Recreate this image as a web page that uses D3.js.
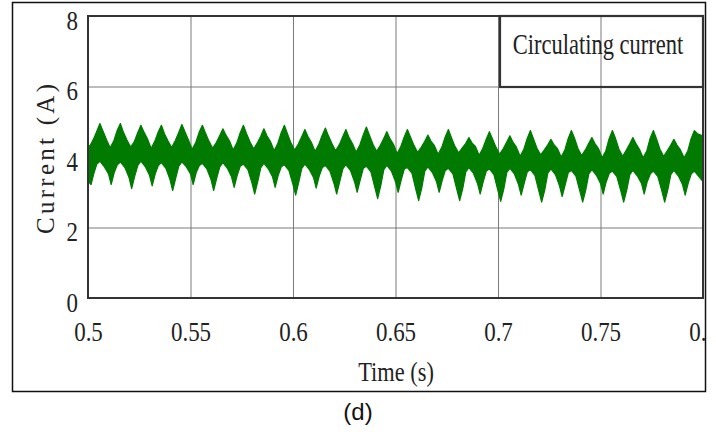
<!DOCTYPE html>
<html>
<head>
<meta charset="utf-8">
<script src="https://cdn.jsdelivr.net/npm/d3@7"></script>
<style>
  body { margin: 0; background: #fff; }
  svg { display: block; }
  .serif { font-family: "Liberation Serif", "Times New Roman", serif; fill: #222; }
</style>
</head>
<body>
<div id="chart"></div>
<script>
// axis ticks
const xTicks = [0.5, 0.55, 0.6, 0.65, 0.7, 0.75, 0.8];
const xTickLabels = ["0.5", "0.55", "0.6", "0.65", "0.7", "0.75", "0.8"];
const yTicks = [0, 2, 4, 6, 8];
const yTickLabels = ["0", "2", "4", "6", "8"];

// upper edge of the circulating current band [time (s), current (A)]
const upperEdge = [
  [0.5000, 4.36],
  [0.5008, 4.30], [0.5026, 4.50], [0.5042, 4.72], [0.5058, 4.95], [0.5073, 4.74], [0.5090, 4.50],
  [0.5108, 4.26], [0.5126, 4.46], [0.5142, 4.75], [0.5158, 4.95], [0.5173, 4.70], [0.5190, 4.48],
  [0.5208, 4.28], [0.5226, 4.44], [0.5242, 4.68], [0.5258, 4.90], [0.5273, 4.71], [0.5290, 4.52],
  [0.5308, 4.24], [0.5326, 4.45], [0.5342, 4.70], [0.5358, 4.90], [0.5373, 4.66], [0.5390, 4.46],
  [0.5408, 4.27], [0.5426, 4.47], [0.5442, 4.69], [0.5458, 4.92], [0.5473, 4.72], [0.5490, 4.48],
  [0.5508, 4.22], [0.5526, 4.42], [0.5542, 4.70], [0.5558, 4.90], [0.5573, 4.68], [0.5590, 4.45],
  [0.5608, 4.25], [0.5626, 4.41], [0.5642, 4.60], [0.5658, 4.80], [0.5673, 4.62], [0.5690, 4.46],
  [0.5708, 4.20], [0.5726, 4.40], [0.5742, 4.68], [0.5758, 4.90], [0.5773, 4.67], [0.5790, 4.43],
  [0.5808, 4.23], [0.5826, 4.40], [0.5842, 4.58], [0.5858, 4.80], [0.5873, 4.60], [0.5890, 4.44],
  [0.5908, 4.18], [0.5926, 4.39], [0.5942, 4.68], [0.5958, 4.90], [0.5973, 4.66], [0.5990, 4.40],
  [0.6008, 4.20], [0.6026, 4.37], [0.6042, 4.57], [0.6058, 4.78], [0.6073, 4.58], [0.6090, 4.41],
  [0.6108, 4.16], [0.6126, 4.36], [0.6142, 4.61], [0.6158, 4.82], [0.6173, 4.60], [0.6190, 4.38],
  [0.6208, 4.18], [0.6226, 4.35], [0.6242, 4.57], [0.6258, 4.78], [0.6273, 4.56], [0.6290, 4.38],
  [0.6308, 4.14], [0.6326, 4.34], [0.6342, 4.62], [0.6358, 4.85], [0.6373, 4.62], [0.6390, 4.36],
  [0.6408, 4.16], [0.6426, 4.33], [0.6442, 4.52], [0.6458, 4.72], [0.6473, 4.52], [0.6490, 4.36],
  [0.6508, 4.10], [0.6526, 4.30], [0.6542, 4.56], [0.6558, 4.78], [0.6573, 4.57], [0.6590, 4.33],
  [0.6608, 4.13], [0.6626, 4.28], [0.6642, 4.44], [0.6658, 4.62], [0.6673, 4.45], [0.6690, 4.32],
  [0.6708, 4.08], [0.6726, 4.28], [0.6742, 4.56], [0.6758, 4.78], [0.6773, 4.55], [0.6790, 4.30],
  [0.6808, 4.12], [0.6826, 4.26], [0.6842, 4.38], [0.6858, 4.55], [0.6873, 4.40], [0.6890, 4.30],
  [0.6908, 4.05], [0.6926, 4.25], [0.6942, 4.50], [0.6958, 4.72], [0.6973, 4.52], [0.6990, 4.28],
  [0.7008, 4.08], [0.7026, 4.24], [0.7042, 4.42], [0.7058, 4.60], [0.7073, 4.42], [0.7090, 4.28],
  [0.7108, 4.02], [0.7126, 4.22], [0.7142, 4.52], [0.7158, 4.75], [0.7173, 4.52], [0.7190, 4.25],
  [0.7208, 4.06], [0.7226, 4.20], [0.7242, 4.34], [0.7258, 4.50], [0.7273, 4.35], [0.7290, 4.24],
  [0.7308, 4.00], [0.7326, 4.20], [0.7342, 4.52], [0.7358, 4.75], [0.7373, 4.54], [0.7390, 4.24],
  [0.7408, 4.04], [0.7426, 4.20], [0.7442, 4.38], [0.7458, 4.55], [0.7473, 4.38], [0.7490, 4.24],
  [0.7508, 3.98], [0.7526, 4.18], [0.7542, 4.52], [0.7558, 4.75], [0.7573, 4.53], [0.7590, 4.22],
  [0.7608, 4.02], [0.7626, 4.20], [0.7642, 4.37], [0.7658, 4.55], [0.7673, 4.38], [0.7690, 4.22],
  [0.7708, 3.98], [0.7726, 4.18], [0.7742, 4.53], [0.7758, 4.75], [0.7773, 4.52], [0.7790, 4.22],
  [0.7808, 4.02], [0.7826, 4.18], [0.7842, 4.33], [0.7858, 4.50], [0.7873, 4.34], [0.7890, 4.20],
  [0.7908, 3.98], [0.7926, 4.18], [0.7942, 4.52], [0.7958, 4.75], [0.7973, 4.66], [0.8000, 4.60]
];

// lower edge of the band [time (s), current (A)]
const lowerEdge = [
  [0.5000, 3.32], [0.5015, 3.22], [0.5028, 3.52], [0.5043, 3.80],
  [0.5058, 3.88], [0.5080, 3.72], [0.5100, 3.52], [0.5113, 3.22], [0.5128, 3.56], [0.5143, 3.78],
  [0.5158, 3.86], [0.5180, 3.70], [0.5200, 3.42], [0.5213, 3.10], [0.5228, 3.46], [0.5243, 3.76],
  [0.5258, 3.88], [0.5280, 3.72], [0.5300, 3.48], [0.5313, 3.18], [0.5328, 3.52], [0.5343, 3.76],
  [0.5358, 3.84], [0.5380, 3.68], [0.5400, 3.36], [0.5413, 3.05], [0.5428, 3.40], [0.5443, 3.74],
  [0.5458, 3.86], [0.5480, 3.72], [0.5500, 3.52], [0.5513, 3.22], [0.5528, 3.56], [0.5543, 3.76],
  [0.5558, 3.82], [0.5580, 3.66], [0.5600, 3.36], [0.5613, 3.05], [0.5628, 3.40], [0.5643, 3.72],
  [0.5658, 3.84], [0.5680, 3.68], [0.5700, 3.44], [0.5713, 3.14], [0.5728, 3.48], [0.5743, 3.74],
  [0.5758, 3.80], [0.5780, 3.64], [0.5800, 3.26], [0.5813, 2.95], [0.5828, 3.30], [0.5843, 3.70],
  [0.5858, 3.82], [0.5880, 3.66], [0.5900, 3.44], [0.5913, 3.14], [0.5928, 3.48], [0.5943, 3.72],
  [0.5958, 3.78], [0.5980, 3.62], [0.6000, 3.22], [0.6013, 2.92], [0.6028, 3.28], [0.6043, 3.68],
  [0.6058, 3.80], [0.6080, 3.64], [0.6100, 3.42], [0.6113, 3.12], [0.6128, 3.46], [0.6143, 3.70],
  [0.6158, 3.76], [0.6180, 3.60], [0.6200, 3.25], [0.6213, 2.95], [0.6228, 3.30], [0.6243, 3.66],
  [0.6258, 3.78], [0.6280, 3.62], [0.6300, 3.30], [0.6313, 3.00], [0.6328, 3.35], [0.6343, 3.68],
  [0.6358, 3.74], [0.6380, 3.58], [0.6400, 3.12], [0.6413, 2.82], [0.6428, 3.18], [0.6443, 3.64],
  [0.6458, 3.76], [0.6480, 3.60], [0.6500, 3.30], [0.6513, 3.00], [0.6528, 3.35], [0.6543, 3.66],
  [0.6558, 3.70], [0.6580, 3.54], [0.6600, 3.06], [0.6613, 2.76], [0.6628, 3.12], [0.6643, 3.60],
  [0.6658, 3.72], [0.6680, 3.56], [0.6700, 3.30], [0.6713, 3.00], [0.6728, 3.34], [0.6743, 3.62],
  [0.6758, 3.68], [0.6780, 3.52], [0.6800, 3.06], [0.6813, 2.76], [0.6828, 3.10], [0.6843, 3.58],
  [0.6858, 3.70], [0.6880, 3.54], [0.6900, 3.25], [0.6913, 2.95], [0.6928, 3.30], [0.6943, 3.60],
  [0.6958, 3.66], [0.6980, 3.50], [0.7000, 3.04], [0.7013, 2.74], [0.7028, 3.08], [0.7043, 3.56],
  [0.7058, 3.68], [0.7080, 3.52], [0.7100, 3.22], [0.7113, 2.92], [0.7128, 3.26], [0.7143, 3.58],
  [0.7158, 3.64], [0.7180, 3.48], [0.7200, 3.02], [0.7213, 2.72], [0.7228, 3.06], [0.7243, 3.54],
  [0.7258, 3.66], [0.7280, 3.50], [0.7300, 3.18], [0.7313, 2.88], [0.7328, 3.22], [0.7343, 3.56],
  [0.7358, 3.62], [0.7380, 3.46], [0.7400, 3.02], [0.7413, 2.72], [0.7428, 3.06], [0.7443, 3.52],
  [0.7458, 3.64], [0.7480, 3.48], [0.7500, 3.25], [0.7513, 2.95], [0.7528, 3.30], [0.7543, 3.54],
  [0.7558, 3.60], [0.7580, 3.44], [0.7600, 3.02], [0.7613, 2.72], [0.7628, 3.06], [0.7643, 3.50],
  [0.7658, 3.62], [0.7680, 3.46], [0.7700, 3.25], [0.7713, 2.95], [0.7728, 3.30], [0.7743, 3.52],
  [0.7758, 3.60], [0.7780, 3.44], [0.7800, 3.02], [0.7813, 2.72], [0.7828, 3.06], [0.7843, 3.50],
  [0.7858, 3.62], [0.7880, 3.46], [0.7900, 3.22], [0.7913, 2.92], [0.7928, 3.26], [0.7943, 3.52],
  [0.7958, 3.60], [0.7980, 3.44], [0.8000, 3.30]
];

const legendLabel = "Circulating current";
const xLabel = "Time (s)";
const yLabel = "Current (A)";
const caption = "(d)";

const width = 716, height = 432;
const plotLeft = 88, plotRight = 703, plotTop = 16, plotBottom = 298;
const squeeze = 0.82;   // the source font is narrow

const svg = d3.select("#chart").append("svg")
  .attr("width", width)
  .attr("height", height);

svg.append("clipPath").attr("id", "pageClip")
  .append("rect").attr("x", 0).attr("y", 0).attr("width", 705).attr("height", height);
svg.append("clipPath").attr("id", "plotClip")
  .append("rect").attr("x", plotLeft).attr("y", plotTop)
  .attr("width", plotRight - plotLeft).attr("height", plotBottom - plotTop);

const page = svg.append("g").attr("clip-path", "url(#pageClip)");

const x = d3.scaleLinear().domain([0.5, 0.8]).range([plotLeft, plotRight]);
const y = d3.scaleLinear().domain([0, 8]).range([plotBottom, plotTop]);

// x axis with grid
const xAxis = page.append("g")
  .attr("transform", `translate(0,${plotBottom})`)
  .call(d3.axisBottom(x)
    .tickValues(xTicks)
    .tickFormat((d, i) => xTickLabels[i])
    .tickSize(-(plotBottom - plotTop)));
xAxis.select(".domain").remove();
xAxis.selectAll("line").attr("stroke", "#7a7a7a").attr("stroke-width", 1);
xAxis.selectAll("text")
  .attr("class", "serif")
  .attr("y", 0).attr("dy", null)
  .attr("font-size", 28)
  .attr("transform", `translate(0,43) scale(${squeeze},1)`);

// y axis with grid
const yAxis = page.append("g")
  .attr("transform", `translate(${plotLeft},0)`)
  .call(d3.axisLeft(y)
    .tickValues(yTicks)
    .tickFormat((d, i) => yTickLabels[i])
    .tickSize(-(plotRight - plotLeft)));
yAxis.select(".domain").remove();
yAxis.selectAll("line").attr("stroke", "#7a7a7a").attr("stroke-width", 1);
yAxis.selectAll("text")
  .attr("class", "serif")
  .attr("x", 0).attr("dy", null)
  .attr("font-size", 28)
  .attr("transform", `translate(-10,13) scale(${squeeze},1)`);

// signal band
const line = d3.line().x(d => x(d[0])).y(d => y(d[1]));
const band = upperEdge.concat(lowerEdge.slice().reverse());
page.append("g").attr("clip-path", "url(#plotClip)")
  .append("path")
  .attr("d", line(band) + "Z")
  .attr("fill", "#007a00")
  .attr("stroke", "#007a00")
  .attr("stroke-width", 1.2)
  .attr("stroke-linejoin", "round");

// plot frame
page.append("rect")
  .attr("x", plotLeft).attr("y", plotTop)
  .attr("width", plotRight - plotLeft).attr("height", plotBottom - plotTop)
  .attr("fill", "none")
  .attr("stroke", "#333")
  .attr("stroke-width", 2);

// legend box
page.append("rect")
  .attr("x", 500).attr("y", plotTop)
  .attr("width", plotRight - 500).attr("height", 71)
  .attr("fill", "none")
  .attr("stroke", "#333")
  .attr("stroke-width", 2.2);
page.append("text")
  .attr("class", "serif")
  .attr("font-size", 30)
  .attr("text-anchor", "middle")
  .attr("transform", "translate(598,54) scale(0.75,1)")
  .text(legendLabel);

// axis titles
page.append("text")
  .attr("class", "serif")
  .attr("font-size", 28)
  .attr("text-anchor", "middle")
  .attr("transform", "translate(396,381) scale(0.8,1)")
  .text(xLabel);
page.append("text")
  .attr("class", "serif")
  .attr("font-size", 25)
  .attr("text-anchor", "middle")
  .attr("textLength", 150)
  .attr("lengthAdjust", "spacing")
  .attr("transform", "translate(54,159) rotate(-90)")
  .text(yLabel);

// outer frame
svg.append("rect")
  .attr("x", 12.5).attr("y", 2.5)
  .attr("width", 693).attr("height", 389)
  .attr("fill", "none")
  .attr("stroke", "#111")
  .attr("stroke-width", 1.5);

svg.append("text")
  .attr("x", 358).attr("y", 420)
  .attr("text-anchor", "middle")
  .attr("font-family", "Liberation Sans, Arial, sans-serif")
  .attr("font-size", 24)
  .attr("fill", "#111")
  .text(caption);
</script>
</body>
</html>
